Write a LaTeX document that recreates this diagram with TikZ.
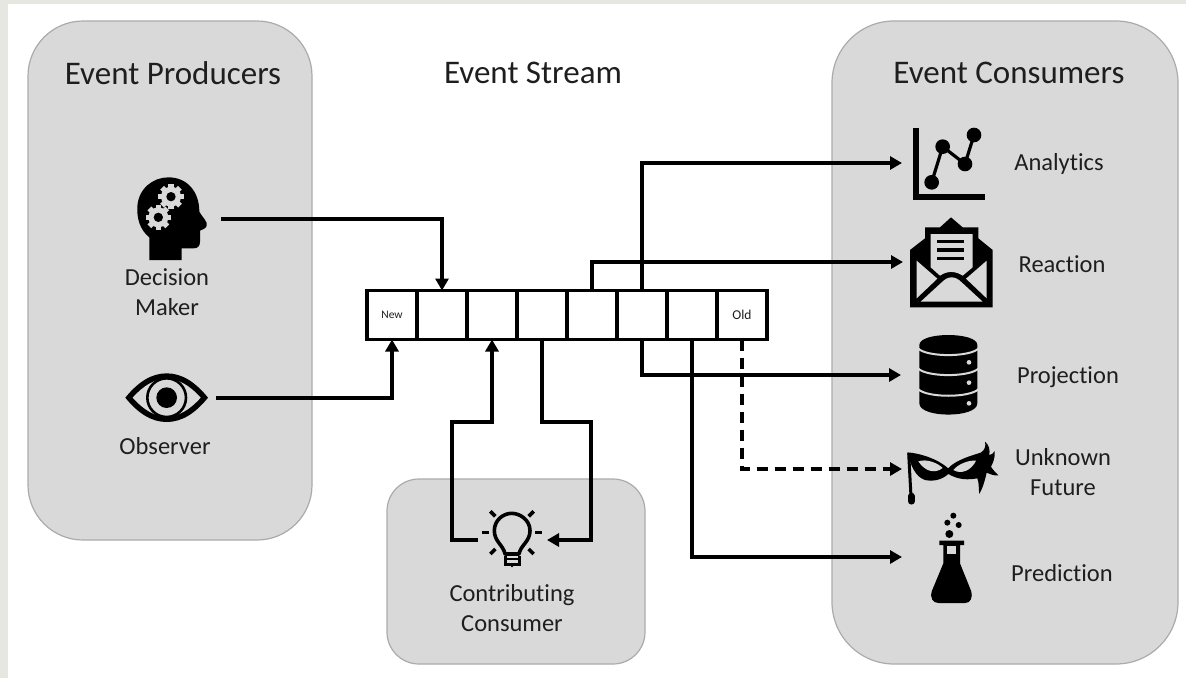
\documentclass[tikz,border=0pt]{standalone}
\usepackage{fontspec}
\setmainfont{Carlito}[Ligatures=NoCommon]
\usetikzlibrary{arrows.meta}
\definecolor{panelfill}{HTML}{D9D9D9}
\definecolor{paneledge}{HTML}{ABABAB}
\definecolor{pagebg}{HTML}{E7E7E2}
\definecolor{inktext}{HTML}{1E1E1E}
\tikzset{
 x=1pt,y=-1pt,
 panel/.style={draw=paneledge,fill=panelfill,line width=1.2pt},
 cellbox/.style={draw=black,line width=3.8pt,fill=white,minimum width=50pt,minimum height=49pt,inner sep=0pt,outer sep=0pt,anchor=north west,text=inktext},
 flow/.style={draw=black,line width=3.3pt,-{Triangle[length=12pt,width=13pt]},line join=miter},
 title/.style={text=inktext,font=\fontsize{33}{38}\selectfont,align=center,inner sep=0pt},
 label/.style={text=inktext,font=\fontsize{24.5}{30}\selectfont,align=center,inner sep=0pt},
 iconz/.style={scale=1/3},
 ink/.style={fill=black,draw=none},
 cut/.style={fill=panelfill,draw=none},
}
\begin{document}
\begin{tikzpicture}
\useasboundingbox (0,0) rectangle (1186,678);
\fill[pagebg] (0,0) rectangle (1186,678);
\fill[white] (8,4) rectangle (1186,678);
% panels
\draw[panel,rounded corners=55pt] (28,21) rectangle (312,540);
\draw[panel,rounded corners=62pt] (832,21) rectangle (1178,664);
\draw[panel,rounded corners=32pt] (387,479) rectangle (645,664);
% titles
\node[title] (tprod) at (173,73) {Event Producers};
\node[title] (tstream) at (533,73) {Event Stream};
\node[title] (tcons) at (1009,73) {Event Consumers};
% cells
\node[cellbox,font=\fontsize{11.5}{13}\selectfont] (c1) at (367,290.5) {New};
\node[cellbox] (c2) at (417,290.5) {};
\node[cellbox] (c3) at (467,290.5) {};
\node[cellbox] (c4) at (517,290.5) {};
\node[cellbox] (c5) at (567,290.5) {};
\node[cellbox] (c6) at (617,290.5) {};
\node[cellbox] (c7) at (667,290.5) {};
\node[cellbox,font=\fontsize{13.5}{14}\selectfont] (c8) at (717,290.5) {Old};
% anchors of icons
\coordinate (dm) at (221,219);
\coordinate (ob) at (216,398);
\coordinate (bl) at (478,540);
\coordinate (br) at (547,540);
\coordinate (an) at (902,163);
\coordinate (re) at (903,262);
\coordinate (pj) at (901,375);
\coordinate (un) at (902,469);
\coordinate (pr) at (902,557);
% connectors
\draw[flow] (dm) -| (c2.north);
\draw[flow] (ob) -| (c1.south);
\draw[flow] (bl) -- (452,540) -- (452,422) -- (492,422) -- (c3.south);
\draw[flow] (c4.south) -- (542,422) -- (591,422) -- (591,540) -- (br);
\draw[flow] (c5.north) -- (592,262) -- (re);
\draw[flow] (c6.north) -- (642,163) -- (an);
\draw[flow] (c6.south) -- (642,375) -- (pj);
\draw[flow,dash pattern=on 11pt off 7pt] (c8.south) -- (742,469) -- (un);
\draw[flow] (c7.south) -- (692,557) -- (pr);
% decision maker
\begin{scope}[shift={(100,160)},iconz]
\fill[ink] (148,300) -- (148,232) .. controls (120,210) and (110,175) .. (112,140) .. controls (115,85) and (160,52) .. (205,52) .. controls (262,52) and (298,95) .. (298,155) .. controls (305,170) and (325,185) .. (320,198) .. controls (316,208) and (305,208) .. (300,212) -- (300,245) .. controls (300,260) and (292,265) .. (280,265) -- (245,265) -- (245,300) -- cycle;
\foreach \gx/\gy in {213/110,175/172}{
 \fill[cut] (\gx,\gy) circle[radius=30];
 \foreach \a in {0,45,...,315}{\fill[cut,shift={(\gx,\gy)},rotate=\a] (-8,-38) rectangle (8,-24);}
 \fill[ink] (\gx,\gy) circle[radius=14];
}
\end{scope}
\node[label] (ldm) at (167,292) {Decision\\Maker};
% eye
\begin{scope}[shift={(100,160)},iconz]
\fill[ink] (76,713) .. controls (115,665) and (155,640) .. (200,640) .. controls (245,640) and (285,665) .. (324,713) .. controls (285,761) and (245,786) .. (200,786) .. controls (155,786) and (115,761) .. (76,713) -- cycle;
\fill[cut] (98,713) .. controls (130,677) and (165,656) .. (200,656) .. controls (235,656) and (270,677) .. (302,713) .. controls (270,749) and (235,770) .. (200,770) .. controls (165,770) and (130,749) .. (98,713) -- cycle;
\draw[black,line width=2.6pt] (200,713) circle[radius=58];
\fill[ink] (200,713) circle[radius=31];
\end{scope}
\node[label] (lob) at (165,446) {Observer};
% chart
\begin{scope}[shift={(890,110)},iconz]
\draw[black,line width=6pt,line join=miter] (78,53) -- (78,262) -- (284,262);
\draw[black,line width=3.2pt] (125,217) -- (158,110) -- (225,162) -- (252,75);
\foreach \p in {(125,217),(158,110),(225,162),(252,75)}{\fill[ink] \p circle[radius=22];}
% envelope
\fill[ink] (60,592) -- (60,420) -- (105,385) -- (105,352) -- (150,352) -- (183,322) -- (218,352) -- (265,352) -- (265,385) -- (308,420) -- (308,592) -- cycle;
\fill[cut] (122,372) -- (248,372) -- (248,472) -- (218,497) .. controls (195,482) and (172,482) .. (150,497) -- (122,472) -- cycle;
\foreach \ly in {395,420,445}{\draw[black,line width=3.4pt] (142,\ly) -- (222,\ly);}
\fill[cut] (80,452) -- (142,506) -- (80,565) -- cycle;
\fill[cut] (290,452) -- (228,506) -- (290,565) -- cycle;
\fill[cut] (92,575) -- (155,517) .. controls (175,497) and (195,497) .. (215,517) -- (278,575) -- cycle;
\end{scope}
\node[label] (lan) at (1059,164) {Analytics};
\node[label] (lre) at (1062,264) {Reaction};
% database
\begin{scope}[shift={(890,320)},iconz]
\fill[ink] (88,75) .. controls (88,35) and (262,35) .. (262,75) -- (262,250) .. controls (262,295) and (88,295) .. (88,250) -- cycle;
\foreach \by in {85,145,207}{\draw[panelfill,line width=2pt] (84,\by) .. controls (110,\by+27) and (240,\by+27) .. (266,\by);}
\foreach \by in {127,188,250}{\fill[panelfill] (237,\by) circle[radius=7];}
% mask
\draw[black,line width=3pt] (56,400) -- (63,530);
\draw[black,line width=6.5pt,line cap=round] (64,528) -- (64,544);
\fill[ink] (52,397) .. controls (90,400) and (140,415) .. (175,445) .. controls (195,420) and (250,405) .. (272,398) .. controls (285,390) and (288,378) .. (285,365) .. controls (298,375) and (300,390) .. (298,405) .. controls (305,405) and (310,400) .. (314,393) .. controls (316,415) and (308,430) .. (303,440) .. controls (310,452) and (318,458) .. (325,466) .. controls (312,468) and (300,462) .. (290,458) .. controls (285,480) and (278,505) .. (268,522) .. controls (265,505) and (268,490) .. (262,475) .. controls (235,480) and (205,480) .. (175,462) .. controls (155,480) and (130,485) .. (105,480) .. controls (75,470) and (62,435) .. (52,397) -- cycle;
\fill[cut] (85,424) .. controls (110,415) and (145,430) .. (158,444) .. controls (135,462) and (105,455) .. (85,424) -- cycle;
\fill[cut] (190,450) .. controls (205,432) and (235,420) .. (258,422) .. controls (245,450) and (215,465) .. (190,450) -- cycle;
% flask
\foreach \fx/\fy/\fr in {190/587/9,172/608/9,206/615/9,178/642/12}{\fill[ink] (\fx,\fy) circle[radius=\fr];}
\fill[ink] (148,662) -- (222,662) -- (222,675) -- (210,675) -- (210,730) -- (243,812) .. controls (250,835) and (240,849) .. (225,849) -- (145,849) .. controls (130,849) and (118,835) .. (126,812) -- (160,730) -- (160,675) -- (148,675) -- cycle;
\fill[cut] (172,678) rectangle (198,702);
\end{scope}
\node[label] (lpj) at (1068,377) {Projection};
\node[label] (lun) at (1063,472) {Unknown\\Future};
\node[label] (lpr) at (1062,573) {Prediction};
% bulb
\begin{scope}[shift={(440,490)},iconz]
\draw[black,line width=3.6pt,line join=round] (195,192) .. controls (190,165) and (163,155) .. (163,122) .. controls (163,90) and (190,70) .. (215,70) .. controls (240,70) and (270,90) .. (270,122) .. controls (270,155) and (242,165) .. (237,192) -- cycle;
\draw[black,line width=3pt] (195,197) -- (195,222) -- (238,222) -- (238,197);
\draw[black,line width=2pt] (195,207) -- (238,207);
\fill[ink] (207,222) -- (226,222) -- (216,232) -- cycle;
\draw[black,line width=3.6pt] (125,128) -- (146,128);
\draw[black,line width=3.6pt] (286,128) -- (306,128);
\draw[black,line width=3.6pt] (151,64) -- (166,79);
\draw[black,line width=3.6pt] (281,64) -- (266,79);
\draw[black,line width=3.6pt] (151,192) -- (166,177);
\draw[black,line width=3.6pt] (281,192) -- (266,177);
\end{scope}
\node[label] (lcc) at (512,608) {Contributing\\Consumer};
\end{tikzpicture}
\end{document}
